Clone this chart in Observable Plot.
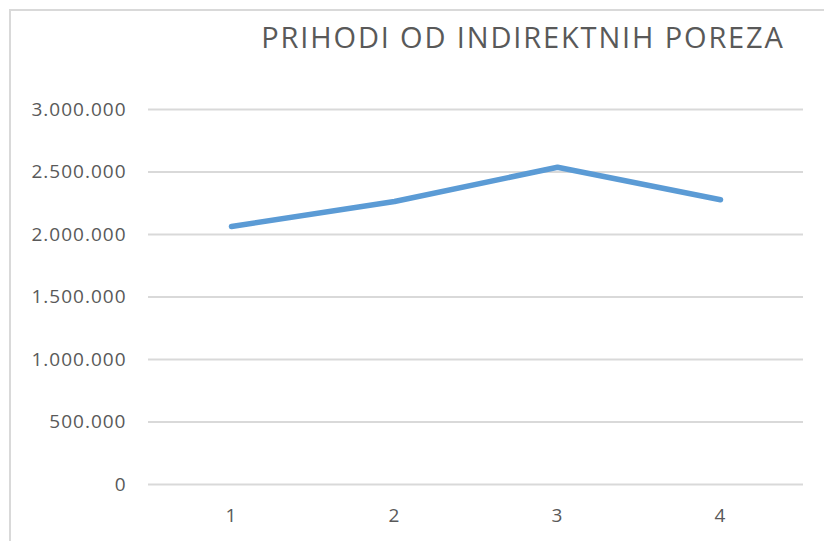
<!DOCTYPE html>
<html>
<head>
<meta charset="utf-8">
<script src="https://cdn.jsdelivr.net/npm/d3@7"></script>
<script src="https://cdn.jsdelivr.net/npm/@observablehq/plot@0.6"></script>
<style>
  html, body { margin: 0; padding: 0; background: #fff; overflow: hidden; }
  #wrap { position: relative; width: 824px; height: 541px; overflow: hidden; }
  #frame { position: absolute; left: 9px; top: 9px; width: 900px; height: 900px; border: 2px solid #d9d9d9; box-sizing: border-box; pointer-events: none; }
  #title { position: absolute; left: 0; width: 1046px; top: 17px; text-align: center; font-family: "Open Sans", sans-serif; font-size: 29px; letter-spacing: 1.85px; color: #595959; white-space: nowrap; line-height: 40px; }
  #chart { position: absolute; left: 0; top: 0; }
</style>
</head>
<body>
<div id="wrap">
  <div id="chart"></div>
  <div id="frame"></div>
  <div id="title">PRIHODI OD INDIREKTNIH POREZA</div>
</div>
<script>
const categories = [1, 2, 3, 4];
const values = [2064000, 2264000, 2538000, 2278000];
const yTicks = [0, 500000, 1000000, 1500000, 2000000, 2500000, 3000000];

const data = categories.map((c, i) => ({ x: c, y: values[i] }));
const fmt = v => d3.format(",")(v).replace(/,/g, ".");

const chart = Plot.plot({
  width: 824,
  height: 541,
  marginLeft: 148,
  marginRight: 21,
  marginTop: 109,
  marginBottom: 57,
  style: { fontFamily: "Open Sans, sans-serif", fontSize: "19px", color: "#595959", background: "transparent" },
  x: { type: "point", domain: categories, padding: 0.5, label: null },
  y: { domain: [0, 3000000], label: null },
  marks: [
    Plot.ruleY(yTicks, { stroke: "#d9d9d9", strokeWidth: 2 }),
    Plot.axisY({ ticks: yTicks, tickFormat: fmt, tickSize: 0, tickPadding: 22, fill: "#595959", label: null, fontSize: 19 }),
    Plot.axisX({ ticks: categories, tickSize: 0, tickPadding: 24, fill: "#595959", label: null, fontSize: 19 }),
    Plot.line(data, { x: "x", y: "y", stroke: "#5b9bd5", strokeWidth: 5.5, strokeLinecap: "round", strokeLinejoin: "round" })
  ]
});
chart.querySelectorAll("text").forEach(t => t.setAttribute("letter-spacing", "1"));
document.getElementById("chart").appendChild(chart);
</script>
</body>
</html>
